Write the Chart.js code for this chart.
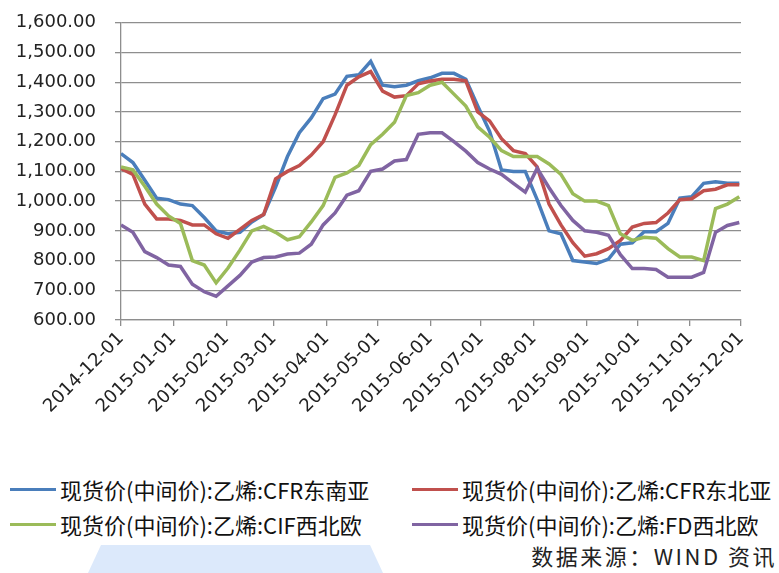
<!DOCTYPE html>
<html>
<head>
<meta charset="utf-8">
<script src="https://cdn.jsdelivr.net/npm/chart.js@4.4.1/dist/chart.umd.min.js"></script>
<style>
  body { margin: 0; background: #fff; }
  #wrap { position: relative; width: 779px; height: 573px; overflow: hidden; background: #fff; }
  #ethChart { position: absolute; left: 0; top: -7px; }
  .leg { position: absolute; display: flex; align-items: center; height: 30px;
         font-family: "Noto Sans CJK SC", sans-serif; font-size: 22px; color: #111; white-space: nowrap; }
  .leg i { display: inline-block; width: 46px; height: 3px; margin-right: 4px; }
  #source { position: absolute; right: 2px; top: 539px; font-family: "Noto Sans CJK SC", sans-serif;
            font-size: 22px; letter-spacing: 2.5px; color: #222; white-space: nowrap; }
  #mark { position: absolute; left: 88px; top: 545px; width: 295px; height: 28px; background: #dce9fb;
          clip-path: polygon(4.4% 0, 95.6% 0, 100% 100%, 0 100%); }
</style>
</head>
<body>
<div id="wrap">
  <canvas id="ethChart" width="779" height="457"></canvas>
  <div id="legend"></div>
  <div id="mark"></div>
  <div id="source">数据来源：WIND 资讯</div>
</div>
<script>
// month ticks on the x axis (days counted from 2014-12-01)
const monthLabels = ['2014-12-01', '2015-01-01', '2015-02-01', '2015-03-01', '2015-04-01', '2015-05-01',
  '2015-06-01', '2015-07-01', '2015-08-01', '2015-09-01', '2015-10-01', '2015-11-01', '2015-12-01'];
const monthDays = [0, 31, 62, 90, 121, 151, 182, 212, 243, 274, 304, 335, 365];

// weekly sample days
const sampleDays = [0, 7, 14, 21, 28, 35, 42, 49, 56, 63, 70, 77, 84, 91, 98, 105, 112, 119, 126, 133,
  140, 147, 154, 161, 168, 175, 182, 189, 196, 203, 210, 217, 224, 231, 238, 245, 252, 259, 266, 273,
  280, 287, 294, 301, 308, 315, 322, 329, 336, 343, 350, 357, 364];

// 现货价(中间价):乙烯:CFR东南亚
const cfrSoutheastAsia = [1160, 1130, 1070, 1010, 1005, 990, 985, 945, 900, 890, 895, 930, 955, 1047,
  1150, 1230, 1280, 1345, 1360, 1420, 1425, 1470, 1390, 1385, 1390, 1405, 1415, 1430, 1430, 1410,
  1320, 1235, 1105, 1100, 1100, 1005, 900, 890, 800, 795, 790, 805, 855, 860, 897, 897, 925, 1010,
  1015, 1060, 1065, 1060, 1060];
// 现货价(中间价):乙烯:CFR东北亚
const cfrNortheastAsia = [1110, 1090, 990, 940, 940, 935, 920, 920, 890, 875, 905, 935, 955, 1075,
  1100, 1120, 1155, 1200, 1290, 1390, 1418, 1436, 1370, 1350, 1355, 1395, 1404, 1410, 1410, 1405,
  1300, 1270, 1210, 1170, 1160, 1115, 990, 920, 860, 815, 823, 840, 868, 913, 925, 928, 960, 1005,
  1008, 1035, 1040, 1055, 1055];
// 现货价(中间价):乙烯:CIF西北欧
const cifNorthwestEurope = [1115, 1105, 1050, 990, 950, 925, 800, 785, 725, 775, 835, 900, 915, 895,
  870, 880, 930, 985, 1080, 1095, 1120, 1190, 1225, 1265, 1355, 1365, 1390, 1400, 1360, 1320,
  1250, 1215, 1170, 1150, 1150, 1150, 1125, 1090, 1025, 1000, 1000, 985, 890, 868, 878, 875, 840,
  812, 812, 800, 975, 990, 1015];
// 现货价(中间价):乙烯:FD西北欧
const fdNorthwestEurope = [920, 895, 830, 810, 785, 780, 720, 695, 680, 715, 750, 795, 810, 812,
  822, 825, 855, 920, 960, 1020, 1035, 1100, 1108, 1135, 1140, 1225, 1230, 1230, 1200, 1168,
  1130, 1108, 1090, 1060, 1030, 1110, 1045, 985, 935, 900, 895, 885, 820, 773, 773, 770, 744,
  744, 744, 760, 895, 918, 928];

const seriesNames = ['现货价(中间价):乙烯:CFR东南亚', '现货价(中间价):乙烯:CFR东北亚',
  '现货价(中间价):乙烯:CIF西北欧', '现货价(中间价):乙烯:FD西北欧'];
const seriesColors = ['#4a7ebb', '#c0504d', '#9bbb59', '#8064a2'];
const seriesValues = [cfrSoutheastAsia, cfrNortheastAsia, cifNorthwestEurope, fdNorthwestEurope];

const gridGrey = '#8e8e8e';
const tickFont = { family: 'DejaVu Sans', size: 18 };

const datasets = seriesValues.map((vals, i) => ({
  label: seriesNames[i],
  data: vals.map((v, j) => ({ x: sampleDays[j], y: v })),
  borderColor: seriesColors[i],
  backgroundColor: seriesColors[i],
  borderWidth: 3.5,
  pointRadius: 0,
  tension: 0,
  fill: false,
  order: 3 - i // later series on top, like the original
}));

new Chart(document.getElementById('ethChart').getContext('2d'), {
  type: 'line',
  data: { datasets: datasets },
  options: {
    responsive: false,
    animation: false,
    layout: { padding: { left: 6, right: 38, top: 8, bottom: 0 } },
    plugins: { legend: { display: false }, tooltip: { enabled: false } },
    scales: {
      x: {
        type: 'linear',
        min: 0,
        max: 365,
        afterBuildTicks: axis => { axis.ticks = monthDays.map(d => ({ value: d })); },
        afterFit: axis => { axis.height = 130; },
        ticks: {
          autoSkip: false,
          maxRotation: 45,
          minRotation: 45,
          padding: 2,
          color: '#222',
          font: tickFont,
          callback: (value, index) => monthLabels[index]
        },
        grid: { drawOnChartArea: false, tickLength: 6, color: gridGrey, lineWidth: 1.3 },
        border: { color: gridGrey, width: 1.3 }
      },
      y: {
        min: 600,
        max: 1600,
        afterFit: axis => { axis.width = 115; },
        ticks: {
          stepSize: 100,
          padding: 19,
          color: '#222',
          font: tickFont,
          callback: v => v.toLocaleString('en-US', { minimumFractionDigits: 2, maximumFractionDigits: 2 })
        },
        grid: { color: gridGrey, lineWidth: 1.3, tickLength: 6 },
        border: { color: gridGrey, width: 1.3 }
      }
    }
  }
});

// legend in two columns below the chart
const legendSpots = [[10, 474], [412, 474], [10, 509], [412, 509]];
const legendBox = document.getElementById('legend');
seriesNames.forEach((name, i) => {
  const item = document.createElement('div');
  item.className = 'leg';
  item.style.left = legendSpots[i][0] + 'px';
  item.style.top = legendSpots[i][1] + 'px';
  item.innerHTML = '<i style="background:' + seriesColors[i] + '"></i>' + name;
  legendBox.appendChild(item);
});
</script>
</body>
</html>
